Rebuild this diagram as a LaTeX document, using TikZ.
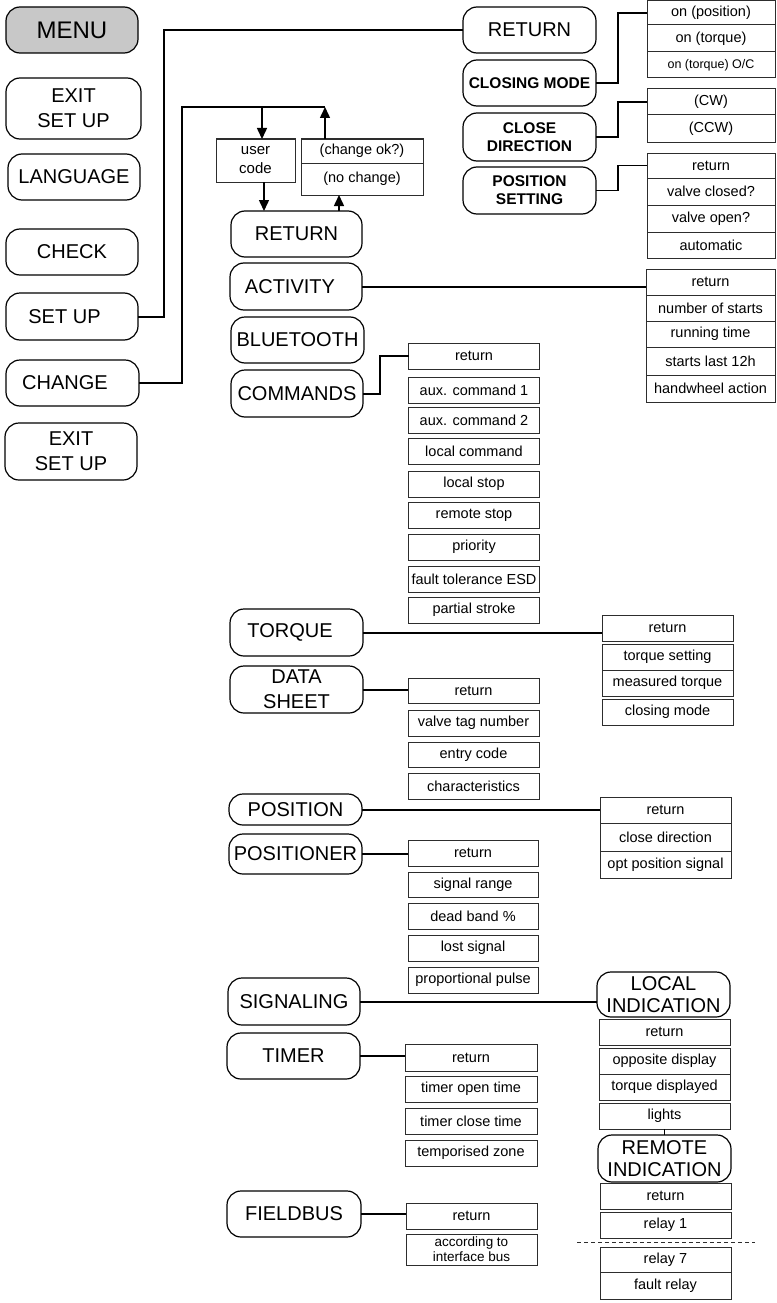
\documentclass[tikz,border=0pt]{standalone}
\usepackage{fontspec}
\setmainfont{Liberation Sans}
\usetikzlibrary{arrows.meta}

\definecolor{menugray}{RGB}{200,200,200}
\definecolor{boxline}{RGB}{45,45,45}

\tikzset{every picture/.style={line width=0.75pt}}
\tikzset{
  menu/.style={draw, rounded corners=14pt, line width=1.2pt, inner sep=0pt, outer sep=0pt,
    align=center, font=\fontsize{20}{25}\selectfont},
  bmenu/.style={menu, font=\bfseries\fontsize{15.5}{18}\selectfont},
  item/.style={draw=boxline, line width=1pt, inner sep=0pt, outer sep=0pt,
    align=center, font=\fontsize{14.5}{16}\selectfont},
  link/.style={line width=2pt},
  thinlink/.style={line width=1.1pt},
  arr/.style={line width=1.5pt, -{Triangle[length=11pt,width=10pt]}}
}

\begin{document}
\begin{tikzpicture}[x=1pt,y=-1pt]
\useasboundingbox (0,0) rectangle (776,1303);

% main menu column
\node[menu, fill=menugray, minimum width=132, minimum height=46, font=\fontsize{24}{28}\selectfont] (menu) at (72,30) {MENU};
\node[menu, minimum width=135, minimum height=61] (exita) at (73.5,108.5) {EXIT\\SET UP};
\node[menu, minimum width=132, minimum height=46] (language) at (74,177) {LANGUAGE};
\node[menu, minimum width=132, minimum height=46] (check) at (72,252) {CHECK};
\node[menu, minimum width=132, minimum height=47] (setup) at (72,316.5) {SET UP\hspace*{15pt}};
\node[menu, minimum width=133, minimum height=46] (change) at (72.5,383) {CHANGE\hspace*{15pt}};
\node[menu, minimum width=132, minimum height=57] (exitb) at (71,451.5) {EXIT\\SET UP};

% change menu column
\node[menu, minimum width=131, minimum height=46] (ret) at (296.5,234) {RETURN};
\node[menu, minimum width=132, minimum height=47] (activity) at (296,286.5) {ACTIVITY\hspace*{12pt}};
\node[menu, minimum width=133, minimum height=46] (bluetooth) at (297.5,340) {BLUETOOTH};
\node[menu, minimum width=132, minimum height=47] (commands) at (297,393.5) {COMMANDS};
\node[menu, minimum width=133, minimum height=47] (torque) at (296.5,632.5) {TORQUE\hspace*{13pt}};
\node[menu, minimum width=133, minimum height=47] (datasheet) at (296.5,689.5) {DATA\\SHEET};
\node[menu, minimum width=133, minimum height=31] (position) at (295.5,809.5) {POSITION};
\node[menu, minimum width=133, minimum height=40] (positioner) at (295.5,854) {POSITIONER};
\node[menu, minimum width=132, minimum height=47] (signaling) at (294,1001.5) {SIGNALING};
\node[menu, minimum width=133, minimum height=46] (timer) at (293.5,1056) {TIMER};
\node[menu, minimum width=134, minimum height=46] (fieldbus) at (294,1214) {FIELDBUS};

% set up menu column
\node[menu, minimum width=133, minimum height=46] (topret) at (529.5,30) {RETURN};
\node[bmenu, minimum width=133, minimum height=46] (closemode) at (529.5,83) {CLOSING MODE};
\node[bmenu, minimum width=133, minimum height=48] (closedir) at (529.5,137) {CLOSE\\DIRECTION};
\node[bmenu, minimum width=133, minimum height=47] (posset) at (529.5,190.5) {POSITION\\SETTING};

% user code check
\node[item, minimum width=79, minimum height=43, font=\fontsize{15}{19}\selectfont] (usercode) at (255.5,160.5) {user\\code};
\node[item, minimum width=122, minimum height=24] (changeok) at (362,151) {(change ok?)};
\node[item, minimum width=122, minimum height=32] (nochange) at (362,179) {(no change)};

% option lists
\foreach \n/\ya/\yb/\t in {cm1/1/25/on (position), cm2/25/52/on (torque),
    cm3/52/78/{\fontsize{12.5}{14}\selectfont on (torque) O/C},
    cd1/89/115/(CW), cd2/115/142/(CCW),
    ps1/153/178/return, ps2/178/205/valve closed?, ps3/205/232/valve open?, ps4/232/258/automatic}
  \node[item, minimum width=128, minimum height={\yb-\ya}] (\n) at (711,{(\ya+\yb)/2}) {\t};

\foreach \n/\ya/\yb/\t in {ac1/269/295/return, ac2/295/321/number of starts, ac3/321/347/running time,
    ac4/347/375/starts last 12h, ac5/375/402/handwheel action}
  \node[item, minimum width=129, minimum height={\yb-\ya}] (\n) at (710.5,{(\ya+\yb)/2}) {\t};

\foreach \n/\ya/\yb/\t in {co1/343/369/return, co2/377/403/aux. command 1, co3/407/433/aux. command 2,
    co4/438/464/local command, co5/471/497/local stop, co6/502/528/remote stop,
    co7/534/560/priority, co8/566/592/fault tolerance ESD, co9/597/623/partial stroke}
  \node[item, minimum width=131, minimum height={\yb-\ya}] (\n) at (474,{(\ya+\yb)/2}) {\t};

\foreach \n/\ya/\yb/\t in {tq1/615/641/return, tq2/644/670/torque setting,
    tq3/670/696/measured torque, tq4/699/725/closing mode}
  \node[item, minimum width=131, minimum height={\yb-\ya}] (\n) at (667.5,{(\ya+\yb)/2}) {\t};

\foreach \n/\ya/\yb/\t in {ds1/678/703/return, ds2/710/736/valve tag number,
    ds3/742/767/entry code, ds4/773/799/characteristics}
  \node[item, minimum width=131, minimum height={\yb-\ya}] (\n) at (473.5,{(\ya+\yb)/2}) {\t};

\foreach \n/\ya/\yb/\t in {po1/797/823/return, po2/823/851/close direction, po3/851/878/opt position signal}
  \node[item, minimum width=131, minimum height={\yb-\ya}] (\n) at (665.5,{(\ya+\yb)/2}) {\t};

\foreach \n/\ya/\yb/\t in {pn1/840/866/return, pn2/872/897/signal range, pn3/903/929/dead band \%,
    pn4/935/961/lost signal, pn5/967/993/proportional pulse}
  \node[item, minimum width=130, minimum height={\yb-\ya}] (\n) at (473,{(\ya+\yb)/2}) {\t};

\foreach \n/\ya/\yb/\t in {tm1/1044/1071/return, tm2/1076/1102/timer open time,
    tm3/1108/1134/timer close time, tm4/1140/1166/temporised zone}
  \node[item, minimum width=132, minimum height={\yb-\ya}] (\n) at (471,{(\ya+\yb)/2}) {\t};

\node[item, minimum width=131, minimum height=26] (fb1) at (471.5,1216) {return};
\node[item, minimum width=131, minimum height=31, font=\fontsize{13.5}{15}\selectfont] (fb2) at (471.5,1249.5) {according to\\interface bus};

% signaling sub menus
\node[menu, minimum width=133, minimum height=45, font=\fontsize{20}{22}\selectfont] (localind) at (663.5,994.5) {LOCAL\\INDICATION};
\foreach \n/\ya/\yb/\t in {li1/1019/1045/return, li2/1048/1074/opposite display,
    li3/1074/1100/torque displayed, li4/1103/1129/lights}
  \node[item, minimum width=131, minimum height={\yb-\ya}] (\n) at (664.5,{(\ya+\yb)/2}) {\t};
\node[menu, minimum width=133, minimum height=47, font=\fontsize{20}{22}\selectfont] (remoteind) at (664.5,1158.5) {REMOTE\\INDICATION};
\foreach \n/\ya/\yb/\t in {ri1/1183/1209/return, ri2/1212/1238/relay 1,
    ri3/1247/1272/relay 7, ri4/1272/1299/fault relay}
  \node[item, minimum width=131, minimum height={\yb-\ya}] (\n) at (665.5,{(\ya+\yb)/2}) {\t};
\draw[boxline, line width=1pt, dash pattern=on 4pt off 3pt] (577,1242) -- (755,1242);

% connectors
\draw[link] (setup.east) -- ++(26,0) |- (topret.west);
\coordinate (top) at (325,107);
\draw[link] (change.east) -- ++(43,0) |- (top);
\coordinate (ucin) at ([xshift=6.5pt]usercode.north);
\coordinate (ucout) at ([xshift=8.5pt]usercode.south);
\coordinate (ncin) at ([xshift=-23pt]nochange.south);
\draw[arr] (ucin |- top) -- (ucin);
\draw[arr] (ucout) -- (ucout |- ret.north);
\draw[arr] (ncin |- ret.north) -- (ncin);
\draw[arr] (changeok.north -| top) -- (top);

\draw[link] (closemode.east) -- ++(22,0) |- (cm1.west);
\draw[thinlink] (closedir.east) -- ++(22,0) |- (cd1.west);
\draw[thinlink] (posset.east) -- ++(22,0) |- (ps1.west);

\draw[link] (activity.east) -- (activity.east -| ac1.west);
\draw[link] (commands.east) -- ++(17,0) |- (co1.west);
\draw[link] (torque.east) -- (torque.east -| tq1.west);
\draw[link] (datasheet.east) -- (datasheet.east -| ds1.west);
\draw[link] (position.east) -- (position.east -| po1.west);
\draw[link] (positioner.east) -- (positioner.east -| pn1.west);
\draw[link] (signaling.east) -- (signaling.east -| localind.west);
\draw[link] (timer.east) -- (timer.east -| tm1.west);
\draw[link] (fieldbus.east) -- (fieldbus.east -| fb1.west);
\draw[line width=1.2pt] (li4.south) -- (remoteind.north);

\end{tikzpicture}
\end{document}
